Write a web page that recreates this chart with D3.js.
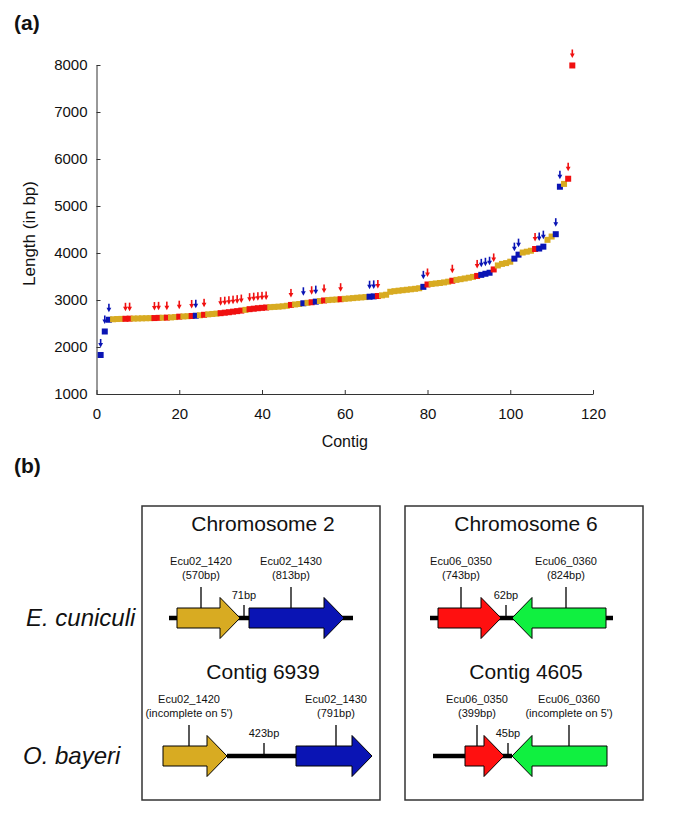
<!doctype html>
<html>
  <head>
    <meta charset="utf-8">
    <title>Contig lengths and gene order</title>
    <script src="https://cdnjs.cloudflare.com/ajax/libs/d3/7.8.5/d3.min.js"></script>
    <style>
      body { margin: 0; background: #fff; }
      svg text { font-family: "Liberation Sans", Arial, sans-serif; fill: #111; }
    </style>
  </head>
  <body>
    <div id="figure"></div>
    <script>

      // ---- panel (a) data: contig lengths (bp), sorted, contig 1..115 ----
      const contigLengths = [
        1830, 2330, 2580, 2590, 2595, 2598, 2600, 2603, 2605, 2607,
        2610, 2612, 2614, 2616, 2620, 2622, 2625, 2630, 2637, 2645,
        2650, 2655, 2660, 2665, 2675, 2685, 2695, 2703, 2710, 2720,
        2730, 2740, 2752, 2763, 2775, 2790, 2805, 2815, 2825, 2833,
        2840, 2848, 2853, 2858, 2866, 2877, 2895, 2905, 2915, 2930,
        2940, 2952, 2965, 2978, 2990, 2998, 3005, 3010, 3017, 3025,
        3032, 3040, 3048, 3055, 3062, 3070, 3077, 3085, 3098, 3112,
        3175, 3188, 3198, 3208, 3218, 3228, 3238, 3250, 3280, 3330,
        3342, 3352, 3362, 3374, 3390, 3410, 3428, 3443, 3458, 3474,
        3492, 3512, 3535, 3558, 3580, 3650, 3735, 3768, 3785, 3815,
        3880, 3965, 4010, 4028, 4048, 4085, 4095, 4135, 4280, 4350,
        4400, 5410, 5470, 5580, 7990
      ];
      // contigs flagged in red / blue (all flagged contigs carry an arrow)
      const redContigs = [7, 8, 14, 15, 17, 20, 23, 26, 30, 31, 32, 33, 34, 35,
        37, 38, 39, 40, 41, 47, 52, 55, 59, 68, 80, 86, 92, 96, 106, 114, 115];
      const blueContigs = [1, 2, 3, 24, 50, 53, 66, 67, 79, 93, 94, 95, 101,
        102, 107, 108, 111, 112];
      const xTicks = [0, 20, 40, 60, 80, 100, 120];
      const yTicks = [1000, 2000, 3000, 4000, 5000, 6000, 7000, 8000];

      // ---- panel (b) data: schematic gene maps (positions in map units) ----
      const boxTitles = [["Chromosome 2", "Contig 6939"], ["Chromosome 6", "Contig 4605"]];
      const speciesNames = ["E. cuniculi", "O. bayeri"];
      const backbones = [
        { box: 0, row: 0, from: 27, to: 211 },
        { box: 0, row: 1, from: 85, to: 154 },
        { box: 1, row: 0, from: 25, to: 208 },
        { box: 1, row: 1, from: 28, to: 107 }
      ];
      const genes = [
        { box: 0, row: 0, gene: "Ecu02_1420", note: "(570bp)", from: 35, to: 98, dir: 1, at: 59 },
        { box: 0, row: 0, gene: "Ecu02_1430", note: "(813bp)", from: 107, to: 202, dir: 1, at: 149 },
        { box: 0, row: 1, gene: "Ecu02_1420", note: "(incomplete on 5')", from: 21, to: 85, dir: 1, at: 47 },
        { box: 0, row: 1, gene: "Ecu02_1430", note: "(791bp)", from: 154, to: 230, dir: 1, at: 194 },
        { box: 1, row: 0, gene: "Ecu06_0350", note: "(743bp)", from: 33, to: 96, dir: 1, at: 56 },
        { box: 1, row: 0, gene: "Ecu06_0360", note: "(824bp)", from: 107, to: 201, dir: -1, at: 161 },
        { box: 1, row: 1, gene: "Ecu06_0350", note: "(399bp)", from: 60, to: 99, dir: 1, at: 72 },
        { box: 1, row: 1, gene: "Ecu06_0360", note: "(incomplete on 5')", from: 107, to: 202, dir: -1, at: 164 }
      ];
      const spacers = [
        { box: 0, row: 0, label: "71bp", at: 102 },
        { box: 0, row: 1, label: "423bp", at: 122 },
        { box: 1, row: 0, label: "62bp", at: 101 },
        { box: 1, row: 1, label: "45bp", at: 103 }
      ];
      const geneColors = {
        "Ecu02_1420": "#d8ab22", "Ecu02_1430": "#0a14b4",
        "Ecu06_0350": "#ff1010", "Ecu06_0360": "#10f040"
      };

      const W = 685, H = 829;
      const svg = d3.select("#figure").append("svg")
        .attr("width", W).attr("height", H);

      // ================= panel (a) =================
      const x = d3.scaleLinear().domain([0, 120]).range([96.5, 593]);
      const y = d3.scaleLinear().domain([1000, 8000]).range([394, 65]);

      const gold = "#d8ab22", red = "#f01010", blue = "#0a14b4";
      const colorOf = n => redContigs.includes(n) ? red : (blueContigs.includes(n) ? blue : gold);

      const xAxis = svg.append("g")
        .attr("transform", `translate(0,${y(1000)})`)
        .call(d3.axisBottom(x).tickValues(xTicks).tickFormat(d3.format("d"))
          .tickSizeInner(-4).tickSizeOuter(0).tickPadding(14));
      const yAxis = svg.append("g")
        .attr("transform", `translate(${x(0)},0)`)
        .call(d3.axisLeft(y).tickValues(yTicks).tickFormat(d3.format("d"))
          .tickSizeInner(-4).tickSizeOuter(0).tickPadding(9));
      [xAxis, yAxis].forEach(a => {
        a.selectAll("text").style("font-size", "15px").attr("fill", "#111");
        a.selectAll("path, line").attr("stroke", "#333");
        a.attr("font-family", null);
      });

      const pts = contigLengths.map((v, i) => ({ n: i + 1, v: v }));

      svg.append("g").selectAll("rect")
        .data(pts)
        .join("rect")
        .attr("x", d => x(d.n) - 3)
        .attr("y", d => y(d.v) - 3)
        .attr("width", 6)
        .attr("height", 6)
        .attr("fill", d => colorOf(d.n));

      // small down arrows above the flagged contigs
      const flagged = pts.filter(d => colorOf(d.n) !== gold);
      const arrows = svg.append("g").selectAll("g")
        .data(flagged)
        .join("g")
        .attr("transform", d => `translate(${x(d.n)},${y(d.v)})`)
        .attr("fill", d => colorOf(d.n));
      arrows.append("rect")
        .attr("x", -0.8).attr("y", -16).attr("width", 1.6).attr("height", 5);
      arrows.append("path")
        .attr("d", "M-2.4,-12 L2.4,-12 L0,-7.5 Z");

      svg.append("text")
        .attr("x", x(60)).attr("y", 447)
        .attr("text-anchor", "middle")
        .style("font-size", "16px")
        .text("Contig");
      svg.append("text")
        .attr("transform", `translate(35,${(y(1000) + y(8000)) / 2 + 4}) rotate(-90)`)
        .attr("text-anchor", "middle")
        .style("font-size", "17px")
        .text("Length (in bp)");

      svg.append("text").attr("x", 14).attr("y", 30)
        .style("font-size", "21px").style("font-weight", "bold").text("(a)");
      svg.append("text").attr("x", 14).attr("y", 473)
        .style("font-size", "21px").style("font-weight", "bold").text("(b)");

      // ================= panel (b) =================
      const boxLeft = [142, 405];
      const boxWidth = 238;
      const boxTop = 506, boxBottom = 800;
      const rowCenter = [618, 756];
      const titleBase = [531, 679];
      const bodyH = 10, headH = 20.5, headL = 20;

      const mapX = boxLeft.map(l => d3.scaleLinear().domain([0, boxWidth]).range([l, l + boxWidth]));

      boxLeft.forEach((l, b) => {
        svg.append("rect")
          .attr("x", l).attr("y", boxTop)
          .attr("width", boxWidth).attr("height", boxBottom - boxTop)
          .attr("fill", "none").attr("stroke", "#333").attr("stroke-width", 1.5);
        boxTitles[b].forEach((t, r) => {
          svg.append("text")
            .attr("x", l + boxWidth / 2 + 2).attr("y", titleBase[r])
            .attr("text-anchor", "middle")
            .style("font-size", "21px")
            .text(t);
        });
      });

      speciesNames.forEach((s, r) => {
        svg.append("text")
          .attr("x", r === 0 ? 26 : 23).attr("y", rowCenter[r] + 8)
          .style("font-size", "24px").style("font-style", "italic")
          .text(s);
      });

      // backbone lines
      svg.append("g").selectAll("line")
        .data(backbones)
        .join("line")
        .attr("x1", d => mapX[d.box](d.from))
        .attr("x2", d => mapX[d.box](d.to))
        .attr("y1", d => rowCenter[d.row])
        .attr("y2", d => rowCenter[d.row])
        .attr("stroke", "#000").attr("stroke-width", 4.5);

      // gene arrows
      function genePath(d) {
        const x0 = mapX[d.box](d.from), x1 = mapX[d.box](d.to), c = rowCenter[d.row];
        if (d.dir > 0) {
          const xh = x1 - headL;
          return `M${x0},${c - bodyH}L${xh},${c - bodyH}L${xh},${c - headH}L${x1},${c}` +
            `L${xh},${c + headH}L${xh},${c + bodyH}L${x0},${c + bodyH}Z`;
        }
        const xh = x0 + headL;
        return `M${x1},${c - bodyH}L${xh},${c - bodyH}L${xh},${c - headH}L${x0},${c}` +
          `L${xh},${c + headH}L${xh},${c + bodyH}L${x1},${c + bodyH}Z`;
      }

      const geneG = svg.append("g").selectAll("g")
        .data(genes)
        .join("g");
      geneG.append("path")
        .attr("d", genePath)
        .attr("fill", d => geneColors[d.gene])
        .attr("stroke", "#000").attr("stroke-width", 1);
      geneG.append("line")
        .attr("x1", d => mapX[d.box](d.at)).attr("x2", d => mapX[d.box](d.at))
        .attr("y1", d => rowCenter[d.row] - 31).attr("y2", d => rowCenter[d.row] - bodyH)
        .attr("stroke", "#000").attr("stroke-width", 1.3);
      geneG.append("text")
        .attr("x", d => mapX[d.box](d.at)).attr("y", d => rowCenter[d.row] - 53)
        .attr("text-anchor", "middle").style("font-size", "11px")
        .text(d => d.gene);
      geneG.append("text")
        .attr("x", d => mapX[d.box](d.at)).attr("y", d => rowCenter[d.row] - 39)
        .attr("text-anchor", "middle").style("font-size", "11px")
        .text(d => d.note);

      // intergenic spacer labels
      const spG = svg.append("g").selectAll("g")
        .data(spacers)
        .join("g");
      spG.append("line")
        .attr("x1", d => mapX[d.box](d.at)).attr("x2", d => mapX[d.box](d.at))
        .attr("y1", d => rowCenter[d.row] - 13).attr("y2", d => rowCenter[d.row])
        .attr("stroke", "#000").attr("stroke-width", 1.3);
      spG.append("text")
        .attr("x", d => mapX[d.box](d.at)).attr("y", d => rowCenter[d.row] - 19)
        .attr("text-anchor", "middle").style("font-size", "11px")
        .text(d => d.label);

    </script>
  </body>
</html>
